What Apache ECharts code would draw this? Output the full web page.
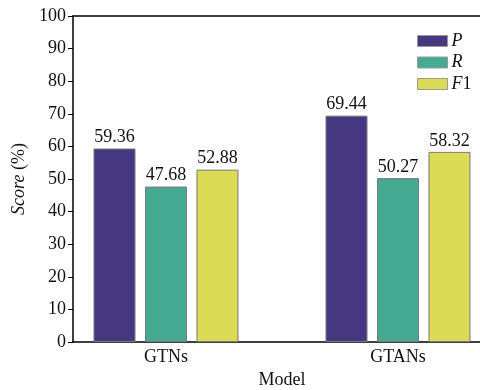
<!DOCTYPE html>
<html><head><meta charset="utf-8">
<script src="https://cdn.jsdelivr.net/npm/echarts@6/dist/echarts.min.js"></script>
<style>html,body{margin:0;padding:0;background:#fff}#c{width:480px;height:390px}</style>
</head><body><div id="c"></div>
<script>
var categories = ['GTNs', 'GTANs'];
var seriesNames = ['P', 'R', 'F1'];
var valuesP = [59.36, 69.44];
var valuesR = [47.68, 50.27];
var valuesF1 = [52.88, 58.32];
var yTicks = [0, 10, 20, 30, 40, 50, 60, 70, 80, 90, 100];
var colors = ['#453881', '#45AA92', '#DCDB55'];

var FONT = 'Liberation Serif';
var chart = echarts.init(document.getElementById('c'), null, {renderer: 'canvas'});
var dataSets = [valuesP, valuesR, valuesF1];
var series = seriesNames.map(function (n, i) {
  return {
    name: n, type: 'bar', xAxisIndex: 2, yAxisIndex: 1,
    data: dataSets[i], barWidth: 42, barGap: '22.6%',
    itemStyle: {color: colors[i], borderColor: '#7a7a7a', borderWidth: 1},
    label: {show: true, position: 'top', distance: 2, color: '#111', fontFamily: FONT, fontSize: 18,
      formatter: function (p) { return p.value.toFixed(2); }},
    emphasis: {disabled: true}, animation: false
  };
});
chart.setOption({
  animation: false,
  legend: {
    orient: 'vertical', left: 417, top: 32, itemWidth: 30, itemHeight: 11, itemGap: 3.5,
    padding: 0,
    data: seriesNames, icon: 'rect',
    itemStyle: {borderColor: '#999', borderWidth: 1},
    formatter: function (n) {
      if (n === 'F1') return '{i|F}{n|1}';
      return '{i|' + n + '}';
    },
    textStyle: {padding: [0, 0, 0, -1], lineHeight: 12, rich: {
      i: {fontFamily: FONT, fontStyle: 'italic', fontSize: 18, color: '#111', lineHeight: 12},
      n: {fontFamily: FONT, fontSize: 18, color: '#111', lineHeight: 12}
    }}
  },
  grid: [
    {left: 73, right: 0, top: 16, bottom: 48, outerBoundsMode: 'none', containLabel: false},
    {left: 50, right: -34, top: 16, bottom: 48, outerBoundsMode: 'none', containLabel: false}
  ],
  xAxis: [
    {gridIndex: 0, type: 'value', min: 0, max: 1, position: 'bottom',
      axisLine: {show: true, lineStyle: {color: '#000', width: 1.5}}, axisTick: {show: false},
      axisLabel: {show: false}, splitLine: {show: false}},
    {gridIndex: 0, type: 'value', min: 0, max: 1, position: 'top',
      axisLine: {show: true, lineStyle: {color: '#000', width: 1.5}}, axisTick: {show: false},
      axisLabel: {show: false}, splitLine: {show: false}},
    {gridIndex: 1, type: 'category', data: categories, position: 'bottom',
      axisLine: {show: false},
      axisTick: {show: true, inside: true, length: 5, alignWithLabel: true, lineStyle: {color: '#000'}},
      axisLabel: {color: '#111', fontFamily: FONT, fontSize: 18, margin: 6},
      name: 'Model', nameLocation: 'middle', nameGap: 28,
      nameTextStyle: {color: '#111', fontFamily: FONT, fontSize: 18}}
  ],
  yAxis: [
    {gridIndex: 0, type: 'value', min: 0, max: 100, interval: 10,
      axisLine: {show: true, lineStyle: {color: '#000', width: 1.5}},
      axisTick: {show: true, inside: false, length: 5, lineStyle: {color: '#000'}},
      axisLabel: {color: '#111', fontFamily: FONT, fontSize: 18, margin: 7,
        formatter: function (v) { return yTicks.indexOf(v) >= 0 ? String(v) : ''; }},
      splitLine: {show: false},
      name: '{i|Score} (%)', nameLocation: 'middle', nameGap: 44, nameRotate: 90,
      nameTextStyle: {color: '#111', fontFamily: FONT, fontSize: 18, rich: {
        i: {fontFamily: FONT, fontStyle: 'italic', fontSize: 18, color: '#111'}}}},
    {gridIndex: 1, type: 'value', min: 0, max: 100, show: false}
  ],
  series: series
});
</script></body></html>
